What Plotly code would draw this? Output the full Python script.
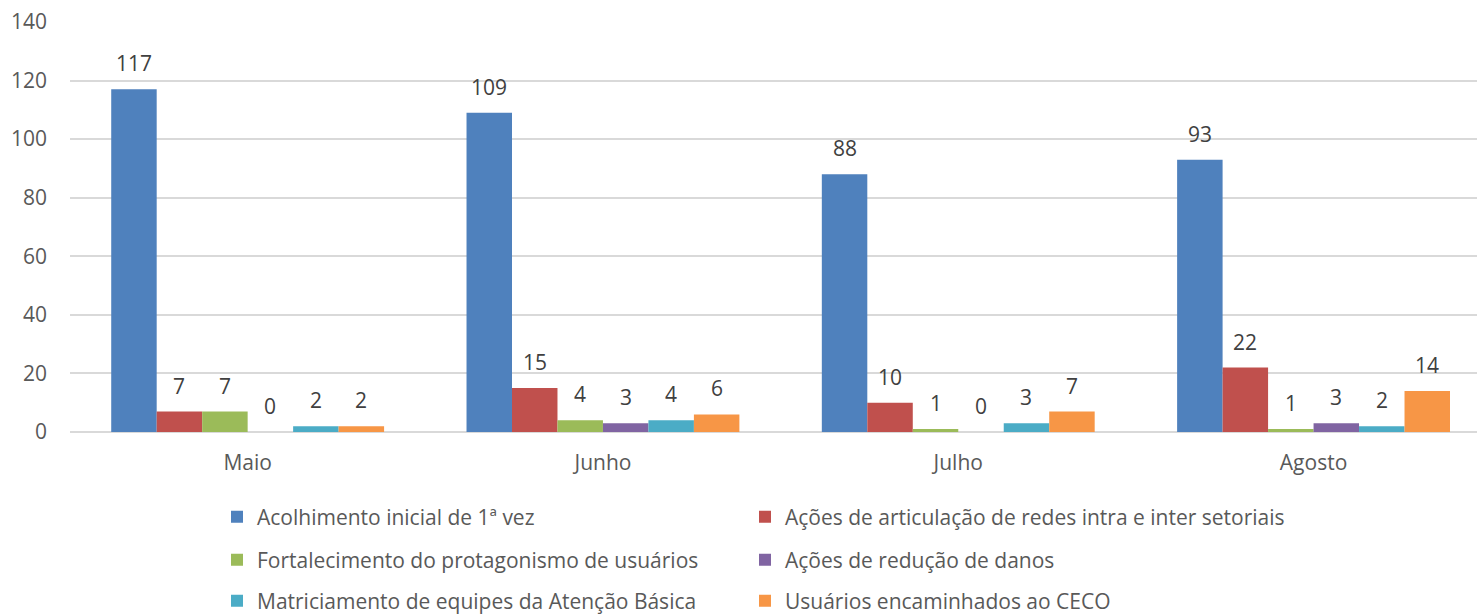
import plotly.graph_objects as go

# ── Data ─────────────────────────────────────────────────────
months = ["Maio", "Junho", "Julho", "Agosto"]
series_names = [
    "Acolhimento inicial de 1ª vez",
    "Ações de articulação de redes intra e inter setoriais",
    "Fortalecimento do protagonismo de usuários",
    "Ações de redução de danos",
    "Matriciamento de equipes da Atenção Básica",
    "Usuários encaminhados ao CECO",
]
acolhimento = [117, 109, 88, 93]
articulacao = [7, 15, 10, 22]
fortalecimento = [7, 4, 1, 1]
reducao_danos = [0, 3, 0, 3]
matriciamento = [2, 4, 3, 2]
ceco = [2, 6, 7, 14]
y_ticks = [0, 20, 40, 60, 80, 100, 120, 140]

# ── Theme ────────────────────────────────────────────────────
COLORS = ["#4F81BD", "#C0504D", "#9BBB59", "#8064A2", "#4BACC6", "#F79646"]
FONT = "Open Sans"
FONT_SIZE = 21
TICK_COLOR = "#595959"
LABEL_COLOR = "#404040"
GRID_COLOR = "#D9D9D9"
BARGAP = 0.232
W, H = 1477, 616

# legend grid: two columns, three rows (pixel positions in the page)
LEGEND_COL_X = [217, 745]
LEGEND_ROW_Y = [517, 560, 601]

all_series = [acolhimento, articulacao, fortalecimento, reducao_danos, matriciamento, ceco]

fig = go.Figure()
legends = {}
for i, (name, vals, color) in enumerate(zip(series_names, all_series, COLORS)):
    lg = "legend" if i == 0 else f"legend{i + 1}"
    fig.add_trace(go.Bar(
        x=months,
        y=vals,
        name=name,
        marker=dict(color=color, line=dict(width=0)),
        legend=lg,
    ))
    legends[lg] = dict(
        orientation="h",
        xref="container",
        yref="container",
        x=LEGEND_COL_X[i % 2] / W,
        y=1 - LEGEND_ROW_Y[i // 2] / H,
        xanchor="left",
        yanchor="middle",
        font=dict(family=FONT, size=FONT_SIZE, color=TICK_COLOR),
        bgcolor="rgba(0,0,0,0)",
        borderwidth=0,
    )

# data labels above each bar
n = len(all_series)
slot = (1 - BARGAP) / n
for si, vals in enumerate(all_series):
    for ci, v in enumerate(vals):
        fig.add_annotation(
            x=ci + (si - (n - 1) / 2) * slot,
            y=v,
            text=str(v),
            showarrow=False,
            yshift=26,
            font=dict(family=FONT, size=FONT_SIZE, color=LABEL_COLOR),
        )

fig.update_layout(
    width=W,
    height=H,
    paper_bgcolor="white",
    plot_bgcolor="white",
    font=dict(family=FONT, size=FONT_SIZE, color=TICK_COLOR),
    margin=dict(l=70, r=0, t=22, b=184),
    barmode="group",
    bargap=BARGAP,
    bargroupgap=0,
    showlegend=True,
    **legends,
    xaxis=dict(
        type="category",
        range=[-0.5, 3.46],
        showgrid=False,
        showline=False,
        zeroline=False,
        ticks="",
        ticklabelstandoff=16,
        tickfont=dict(family=FONT, size=FONT_SIZE, color=TICK_COLOR),
    ),
    yaxis=dict(
        range=[0, 140],
        tickvals=y_ticks,
        showgrid=True,
        gridcolor=GRID_COLOR,
        gridwidth=1.5,
        zeroline=True,
        zerolinecolor=GRID_COLOR,
        zerolinewidth=1.5,
        showline=False,
        ticks="",
        ticklabelstandoff=22,
        tickfont=dict(family=FONT, size=FONT_SIZE, color=TICK_COLOR),
    ),
)

# drop the browser's default body margin so the figure sits at the page corner
fig.write_html(
    "out.html",
    config={"displayModeBar": False},
    post_script="document.body.style.margin='0';",
)
